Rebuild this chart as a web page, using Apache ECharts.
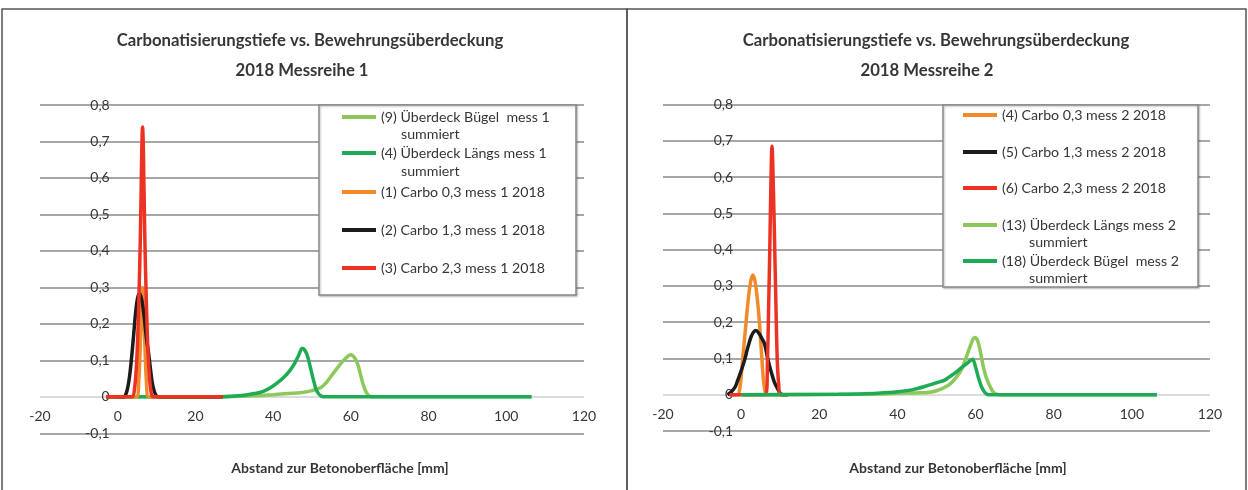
<!DOCTYPE html>
<html>
<head>
<meta charset="utf-8">
<script src="https://cdn.jsdelivr.net/npm/echarts@6/dist/echarts.min.js"></script>
<style>
html,body{margin:0;padding:0;background:#ffffff;}
#chart{width:1248px;height:490px;}
</style>
</head>
<body>
<div id="chart"></div>
<script>
// ---------- text ----------
const chartTitle = 'Carbonatisierungstiefe vs. Bewehrungsüberdeckung';
const subTitles = ['2018 Messreihe 1', '2018 Messreihe 2'];
const xAxisName = 'Abstand zur Betonoberfläche [mm]';

// ---------- axes ----------
const xMin = -20, xMax = 120, xStep = 20;
const yMin = -0.1, yMax = 0.8, yStep = 0.1;

// ---------- series names ----------
const namesLeft = [
  '(9) Überdeck Bügel  mess 1 summiert',
  '(4) Überdeck Längs mess 1 summiert',
  '(1) Carbo 0,3 mess 1 2018',
  '(2) Carbo 1,3 mess 1 2018',
  '(3) Carbo 2,3 mess 1 2018'
];
const namesRight = [
  '(4) Carbo 0,3 mess 2 2018',
  '(5) Carbo 1,3 mess 2 2018',
  '(6) Carbo 2,3 mess 2 2018',
  '(13) Überdeck Längs mess 2 summiert',
  '(18) Überdeck Bügel  mess 2 summiert'
];

// ---------- data: Messreihe 1 [x, y] ----------
const bugel1 = [[0,0],[20,0],[30,0.001],[35,0.003],[40,0.006],[44,0.009],[47,0.011],[50,0.017],[52.2,0.025],[53.5,0.037],[54.8,0.055],[56,0.072],[57.4,0.091],[58.6,0.105],[60,0.115],[60.9,0.108],[61.7,0.091],[62.4,0.065],[63,0.04],[63.7,0.018],[64.3,0.007],[65,0.001],[66,0],[106.5,0]];
const laengs1 = [[0,0],[27,0],[30,0.002],[33,0.005],[35.2,0.009],[37.5,0.015],[39.5,0.026],[41.3,0.04],[42.9,0.055],[44.3,0.072],[45.5,0.091],[46.5,0.112],[47.5,0.133],[48.2,0.127],[48.9,0.11],[49.6,0.08],[50.4,0.045],[51,0.022],[51.6,0.01],[52.4,0.002],[53.5,0],[106.5,0]];
const carbo03_1 = [[-3,0],[4.8,0],[5.4,0.04],[5.9,0.17],[6.4,0.3],[6.9,0.17],[7.4,0.04],[8,0],[27,0]];
const carbo13_1 = [[-3,0],[1.5,0],[2.2,0.01],[2.9,0.045],[3.5,0.1],[4.1,0.17],[4.6,0.23],[5.1,0.27],[5.6,0.283],[6.2,0.265],[6.8,0.22],[7.4,0.16],[8.06,0.11],[8.8,0.045],[9.4,0.015],[10,0.002],[10.6,0],[27,0]];
const carbo23_1 = [[-3,0],[3.6,0],[4.3,0.02],[4.9,0.1],[5.4,0.25],[5.85,0.45],[6.2,0.68],[6.4,0.74],[6.6,0.68],[6.95,0.45],[7.4,0.25],[7.9,0.1],[8.5,0.02],[9.2,0],[27,0]];

// ---------- data: Messreihe 2 [x, y] ----------
const carbo03_2 = [[-3,0],[-1,0],[-0.3,0.02],[0.4,0.1],[1.1,0.18],[1.7,0.25],[2.4,0.31],[3,0.33],[3.6,0.31],[4.27,0.25],[4.8,0.18],[5.3,0.1],[5.8,0.03],[6.3,0.003],[6.8,0],[12,0]];
const carbo13_2 = [[-3.5,0],[-2.5,0.008],[-1.5,0.022],[-0.9,0.039],[0,0.066],[0.85,0.094],[1.7,0.13],[2.56,0.16],[3.2,0.173],[3.8,0.177],[4.5,0.17],[5.3,0.155],[6,0.14],[6.8,0.1],[7.6,0.066],[8.5,0.035],[9.4,0.015],[10,0.004],[10.7,0],[12,0]];
const carbo23_2 = [[-3,0],[6.3,0],[6.75,0.1],[7.05,0.25],[7.33,0.4],[7.6,0.57],[7.9,0.685],[8.25,0.57],[8.6,0.4],[8.9,0.25],[9.23,0.1],[9.6,0.03],[10.1,0],[12,0]];
const laengs2 = [[0,0],[30,0.001],[35,0.002],[40,0.004],[45,0.005],[48.3,0.007],[50,0.011],[52,0.02],[53.5,0.03],[55,0.047],[56.5,0.072],[57.5,0.1],[58.5,0.13],[59.3,0.152],[59.8,0.158],[60.5,0.15],[61.2,0.12],[62,0.076],[62.8,0.045],[63.7,0.023],[64.5,0.008],[65.5,0.001],[66.5,0],[106.4,0]];
const bugel2 = [[0,0],[25,0.001],[30,0.002],[35,0.004],[40,0.008],[44,0.014],[48.3,0.027],[50,0.033],[52.1,0.04],[53.4,0.05],[55,0.062],[56.8,0.078],[58,0.088],[59.2,0.098],[59.9,0.08],[60.7,0.048],[61.4,0.025],[62,0.012],[62.6,0.004],[63.3,0],[106.4,0]];

// ---------- styling ----------
const FONT = 'Lato, "Noto Sans", sans-serif';
const LIGHT_GREEN = '#8cc85a';
const DARK_GREEN = '#1fab55';
const ORANGE = '#f08a2a';
const BLACK = '#1c1c1c';
const RED = '#ec3323';
const TEXT = '#363636';

const leftData = [bugel1, laengs1, carbo03_1, carbo13_1, carbo23_1];
const leftColors = [LIGHT_GREEN, DARK_GREEN, ORANGE, BLACK, RED];
const rightData = [carbo03_2, carbo13_2, carbo23_2, laengs2, bugel2];
const rightColors = [ORANGE, BLACK, RED, LIGHT_GREEN, DARK_GREEN];

function mkSeries(names, datas, colors, idx) {
  return names.map((n, i) => ({
    name: n, type: 'line', xAxisIndex: idx, yAxisIndex: idx,
    data: datas[i], smooth: 0.35, symbol: 'none', showSymbol: false,
    lineStyle: { width: 3.5, color: colors[i] }, itemStyle: { color: colors[i] },
    emphasis: { disabled: true }
  }));
}

const grids = [
  { left: 40, top: 105, width: 544, height: 328.3 },
  { left: 663, top: 104.5, width: 547, height: 326.5 }
];

// axes cross at zero: shift the axis lines from the grid edge to the zero position
function mkX(i) {
  const g = grids[i];
  const off = -g.height * (0 - yMin) / (yMax - yMin);
  return {
    type: 'value', gridIndex: i, min: xMin, max: xMax, interval: xStep, offset: off,
    axisLine: { show: false, onZero: false }, axisTick: { show: false }, splitLine: { show: false },
    axisLabel: { fontFamily: FONT, fontSize: 14, color: TEXT, margin: 13 }
  };
}
const GRID_C = '#8a8a8a', ZERO_C = '#d0d0d0';
const splitColors = [GRID_C, ZERO_C, GRID_C, GRID_C, GRID_C, GRID_C, GRID_C, GRID_C, GRID_C, GRID_C];
function mkY(i) {
  const g = grids[i];
  const off = -g.width * (0 - xMin) / (xMax - xMin);
  return {
    type: 'value', gridIndex: i, min: yMin, max: yMax, interval: yStep, offset: off,
    axisLine: { show: false, onZero: false }, axisTick: { show: false },
    splitLine: { show: true, lineStyle: { color: splitColors, width: 1.5 } },
    axisLabel: {
      fontFamily: FONT, fontSize: 14, color: TEXT, margin: 8,
      formatter: v => { const r = Math.round(v * 10) / 10; return r === 0 ? '0' : r.toFixed(1).replace('.', ','); }
    }
  };
}

// legends: one per item so row spacing matches
const legRowsLeft = [117, 153, 192, 230, 268];
const legRowsRight = [115, 152, 188, 225, 261];
function mkLegend(name, left, rowY) {
  return {
    data: [name], left: left, top: rowY - 8, orient: 'vertical', padding: 0, itemGap: 0,
    icon: 'rect', itemWidth: 34, itemHeight: 4,
    formatter: n => n.replace(/ summiert$/, ''),
    textStyle: { fontFamily: FONT, fontSize: 14.2, color: TEXT, lineHeight: 16 }
  };
}
const legends = [];
namesLeft.forEach((n, i) => legends.push(mkLegend(n, 342, legRowsLeft[i])));
namesRight.forEach((n, i) => legends.push(mkLegend(n, 963, legRowsRight[i])));

function txt(x, y, t, size, bold, align) {
  return { type: 'text', x: x, y: y, z: 10, style: { text: t, fontFamily: FONT, fontSize: size, fontWeight: bold ? 'bold' : 'normal', fill: TEXT, align: align || 'center', verticalAlign: 'middle' } };
}

const graphics = [
  { type: 'rect', shape: { x: 2, y: 9, width: 625, height: 490 }, style: { fill: 'none', stroke: '#555', lineWidth: 1.5 }, z: 0 },
  { type: 'rect', shape: { x: 627, y: 9, width: 619, height: 490 }, style: { fill: 'none', stroke: '#555', lineWidth: 1.5 }, z: 0 },
  { type: 'rect', shape: { x: 319, y: 105, width: 257, height: 190 }, style: { fill: '#fff', stroke: '#8a8a8a', lineWidth: 1.5, shadowBlur: 2, shadowOffsetX: 1, shadowOffsetY: 1, shadowColor: 'rgba(0,0,0,0.25)' }, z: 3 },
  { type: 'rect', shape: { x: 943, y: 105, width: 255, height: 182 }, style: { fill: '#fff', stroke: '#8a8a8a', lineWidth: 1.5, shadowBlur: 2, shadowOffsetX: 1, shadowOffsetY: 1, shadowColor: 'rgba(0,0,0,0.25)' }, z: 3 },
  txt(310, 41, chartTitle, 16.7, true),
  txt(302, 71, subTitles[0], 16.7, true),
  txt(936, 41, chartTitle, 16.7, true),
  txt(927, 71, subTitles[1], 16.7, true),
  txt(340, 468, xAxisName, 14, true),
  txt(958, 468, xAxisName, 14, true),
  txt(401, 134, 'summiert', 14.2, false, 'left'),
  txt(401, 171, 'summiert', 14.2, false, 'left'),
  txt(1029, 242, 'summiert', 14.2, false, 'left'),
  txt(1029, 278, 'summiert', 14.2, false, 'left')
];

const chart = echarts.init(document.getElementById('chart'), null, { renderer: 'canvas' });
chart.setOption({
  animation: false,
  backgroundColor: '#ffffff',
  grid: grids.map(g => Object.assign({ outerBoundsMode: 'none', containLabel: false }, g)),
  xAxis: [mkX(0), mkX(1)],
  yAxis: [mkY(0), mkY(1)],
  legend: legends,
  graphic: graphics,
  series: mkSeries(namesLeft, leftData, leftColors, 0).concat(mkSeries(namesRight, rightData, rightColors, 1))
});
</script>
</body>
</html>
